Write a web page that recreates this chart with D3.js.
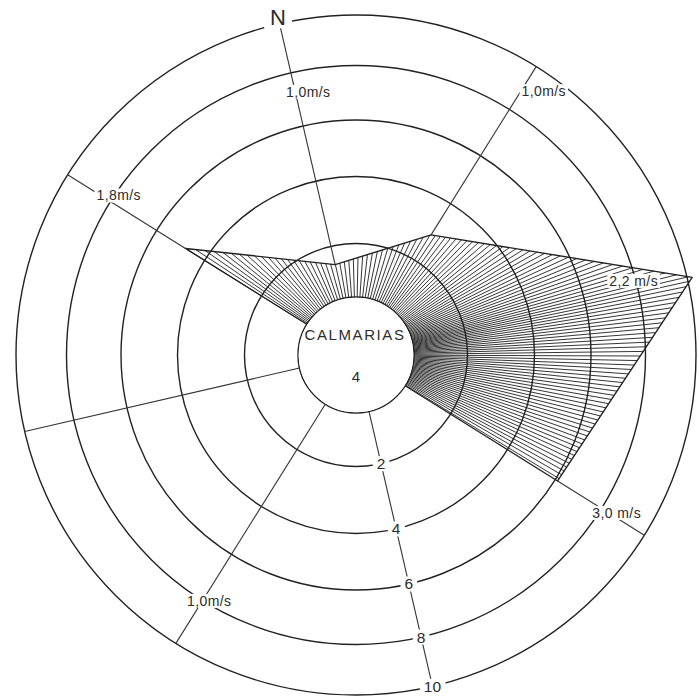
<!DOCTYPE html>
<html>
<head>
<meta charset="utf-8">
<script src="https://cdn.jsdelivr.net/npm/d3@7"></script>
<style>
  html, body { margin: 0; padding: 0; background: #fff; }
  svg { display: block; }
  text { font-family: "Liberation Sans", "DejaVu Sans", sans-serif; fill: #2b2b2b; }
</style>
</head>
<body>
<div id="chart"></div>
<script>
// Wind rose: frequency (%) per direction and mean speed label
const directions = ['N', 'NE', 'E', 'SE', 'S', 'SW', 'W', 'NW'];
const frequency = [1.3, 2.9, 10.2, 6.1, 0, 0, 0, 4.8];
const meanSpeed = ['1,0m/s', '1,0m/s', '2,2 m/s', '3,0 m/s', '', '1,0m/s', '', '1,8m/s'];
const ringTicks = [2, 4, 6, 8, 10];
const calmLabel = 'CALMARIAS';
const calmValue = 4;

const width = 699;
const height = 699;
const cx = 356;
const cy = 355;
const rotation = -13; // north of the drawing is tilted a bit to the left

// rings were drawn by hand, so spacing is not quite even
const r = d3.scaleLinear()
  .domain([0, 2, 4, 6, 8, 10])
  .range([58, 111.5, 178.5, 235, 289.5, 340]);

const bearing = d3.scaleLinear()
  .domain([0, directions.length])
  .range([rotation, rotation + 360]);

// where the speed labels sit along each axis (radius + nudge)
const labelPlace = {
  N:  { r: 270, dx: 13, dy: 0 },
  NE: { r: 311, dx: 23, dy: 0 },
  E:  { r: 285, dx: 0,  dy: -10 },
  SE: { r: 298, dx: 8,  dy: 0 },
  SW: { r: 290, dx: 7,  dy: 0 },
  NW: { r: 301, dx: 18, dy: 0 }
};

function polar(deg, rad) {
  const a = deg * Math.PI / 180;
  return [cx + rad * Math.sin(a), cy - rad * Math.cos(a)];
}

const svg = d3.select('#chart')
  .append('svg')
  .attr('width', width)
  .attr('height', height)
  .attr('viewBox', `0 0 ${width} ${height}`);

svg.append('rect').attr('width', width).attr('height', height).attr('fill', '#fff');

/**
 * Build the run of non-zero directions, clockwise, unwrapped bearings
 */
const n = directions.length;
let start = 0;
for (let i = 0; i < n; i++) {
  if (frequency[i] > 0 && frequency[(i - 1 + n) % n] === 0) start = i;
}
const run = [];
for (let k = 0; k < n; k++) {
  const i = (start + k) % n;
  if (frequency[i] <= 0) break;
  run.push({ i, b: bearing(start + k), rad: r(frequency[i]) });
}
run.forEach(d => { d.p = polar(d.b, d.rad); });

// radius of the polygon edge along a given bearing
function edgeRadius(deg) {
  for (let k = 0; k < run.length - 1; k++) {
    if (deg >= run[k].b && deg <= run[k + 1].b) {
      const P = run[k].p, Q = run[k + 1].p;
      const a = deg * Math.PI / 180;
      const u = [Math.sin(a), -Math.cos(a)];
      const e = [Q[0] - P[0], Q[1] - P[1]];
      const w = [P[0] - cx, P[1] - cy];
      return (w[0] * e[1] - w[1] * e[0]) / (u[0] * e[1] - u[1] * e[0]);
    }
  }
  return r(0);
}

// hatching: radial strokes from the calm circle to the edge
const hatch = [];
const b0 = run[0].b, b1 = run[run.length - 1].b;
for (let b = b0; b <= b1 + 0.001; ) {
  const er = edgeRadius(Math.min(b, b1));
  hatch.push({ b: Math.min(b, b1), er });
  b += (4.6 / er) * 180 / Math.PI;
}

svg.append('g')
  .attr('class', 'hatch')
  .selectAll('line')
  .data(hatch)
  .enter()
  .append('line')
  .attr('x1', d => polar(d.b, r(0))[0])
  .attr('y1', d => polar(d.b, r(0))[1])
  .attr('x2', d => polar(d.b, d.er)[0])
  .attr('y2', d => polar(d.b, d.er)[1])
  .attr('stroke', '#2a2a2a')
  .attr('stroke-width', 0.95);

// rings
svg.append('g')
  .attr('class', 'rings')
  .selectAll('circle')
  .data([0, ...ringTicks])
  .enter()
  .append('circle')
  .attr('cx', cx)
  .attr('cy', cy)
  .attr('r', d => r(d))
  .attr('fill', 'none')
  .attr('stroke', '#222')
  .attr('stroke-width', 1.4);

// calm circle interior stays white
svg.append('circle')
  .attr('cx', cx).attr('cy', cy).attr('r', r(0) - 0.7)
  .attr('fill', '#fff');

// polygon outline
const outline = [polar(b0, r(0)), ...run.map(d => d.p), polar(b1, r(0))];
svg.append('path')
  .attr('d', d3.line()(outline))
  .attr('fill', 'none')
  .attr('stroke', '#222')
  .attr('stroke-width', 1.4)
  .attr('stroke-linejoin', 'round');

// direction axes
const axes = directions.map((name, i) => ({
  name, i, b: bearing(i), from: r(frequency[i]), to: r(10)
})).filter(d => d.from < d.to);

svg.append('g')
  .attr('class', 'axes')
  .selectAll('line')
  .data(axes)
  .enter()
  .append('line')
  .attr('x1', d => polar(d.b, d.from)[0])
  .attr('y1', d => polar(d.b, d.from)[1])
  .attr('x2', d => polar(d.b, d.to)[0])
  .attr('y2', d => polar(d.b, d.to)[1])
  .attr('stroke', '#333')
  .attr('stroke-width', 1.1);

/**
 * Text with a white patch behind it, breaking the lines underneath
 */
function knockoutLabel(parent, x, y, txt, size, padX, padY, spacing) {
  const g = parent.append('g');
  const t = g.append('text')
    .attr('x', x)
    .attr('y', y)
    .attr('text-anchor', 'middle')
    .attr('dominant-baseline', 'central')
    .attr('font-size', size)
    .attr('letter-spacing', spacing || 0)
    .text(txt);
  const bb = t.node().getBBox();
  g.insert('rect', 'text')
    .attr('x', bb.x - padX)
    .attr('y', bb.y - padY)
    .attr('width', bb.width + padX * 2)
    .attr('height', bb.height + padY * 2)
    .attr('fill', '#fff');
  return g;
}

const labels = svg.append('g').attr('class', 'labels');

// mean speed labels
directions.forEach((name, i) => {
  if (!meanSpeed[i]) return;
  const pl = labelPlace[name];
  const [x, y] = polar(bearing(i), pl.r);
  knockoutLabel(labels, x + pl.dx, y + pl.dy, meanSpeed[i], 14, 2, -1, 0.4);
});

// ring values along the south axis
ringTicks.forEach(t => {
  const [x, y] = polar(bearing(directions.indexOf('S')), r(t));
  knockoutLabel(labels, x, y, String(t), 15.5, 4, -1, 0);
});

// north mark
const [nx, ny] = polar(bearing(0), r(10) + 2);
knockoutLabel(labels, nx - 1, ny - 4, 'N', 22, 6, -2, 0);

// calm in the middle
labels.append('text')
  .attr('x', cx - 1)
  .attr('y', cy - 21)
  .attr('text-anchor', 'middle')
  .attr('dominant-baseline', 'central')
  .attr('font-size', 15)
  .attr('letter-spacing', 1.6)
  .text(calmLabel);

labels.append('text')
  .attr('x', cx)
  .attr('y', cy + 21)
  .attr('text-anchor', 'middle')
  .attr('dominant-baseline', 'central')
  .attr('font-size', 15)
  .text(calmValue);
</script>
</body>
</html>
